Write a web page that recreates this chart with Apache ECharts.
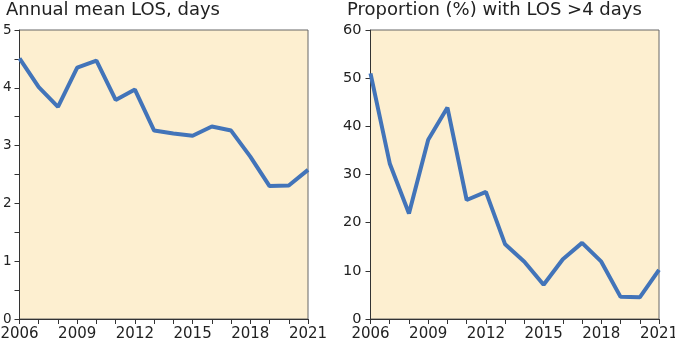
<!DOCTYPE html>
<html lang="en">
<head>
    <meta charset="UTF-8">
    <title>LOS trends</title>
    <script src="https://cdn.jsdelivr.net/npm/echarts@6/dist/echarts.min.js"></script>
    <style>
        body { margin: 0; background: #fff; }
    </style>
</head>
<body>
    <div id="main" style="width: 675px;height:342px;"></div>
    <script type="text/javascript">
        // years on the x axis
        const years = ['2006', '2007', '2008', '2009', '2010', '2011', '2012', '2013',
            '2014', '2015', '2016', '2017', '2018', '2019', '2020', '2021'];
        // annual mean length of stay, days
        const meanLos = [4.51, 4.01, 3.67, 4.35, 4.47, 3.79, 3.97, 3.26,
            3.21, 3.17, 3.33, 3.26, 2.81, 2.30, 2.31, 2.58];
        // proportion with LOS > 4 days, %
        const propOver4 = [51.0, 32.3, 21.9, 37.2, 43.9, 24.7, 26.4, 15.5,
            11.9, 7.1, 12.4, 15.8, 11.9, 4.6, 4.5, 10.2];

        const font = 'DejaVu Sans, Liberation Sans, sans-serif';
        const lineBlue = '#4274b9';
        const axisGrey = '#333';

        function xAxisFor(gridIndex) {
            return {
                type: 'category',
                gridIndex: gridIndex,
                data: years,
                boundaryGap: false,
                axisLine: { lineStyle: { color: axisGrey, width: 1 } },
                axisTick: { show: true, interval: 0, length: 5, lineStyle: { color: axisGrey } },
                axisLabel: { interval: 2, color: '#222', fontSize: 15, fontFamily: font, margin: 8 },
                splitLine: { show: false }
            };
        }

        let myChart = echarts.init(document.getElementById('main'));
        let options = {
            animation: false,
            title: [
                { text: 'Annual mean LOS, days', left: 1, top: -4,
                  textStyle: { fontSize: 18, fontWeight: 'normal', color: '#222', fontFamily: font } },
                { text: 'Proportion (%) with LOS >4 days', left: 342, top: -4,
                  textStyle: { fontSize: 18, fontWeight: 'normal', color: '#222', fontFamily: font } }
            ],
            // outerBoundsMode none: keep the plot boxes where they are even if end labels touch the edge
            grid: [
                { left: 19.5, top: 30, width: 288.5, height: 289, show: true, outerBoundsMode: 'none',
                  backgroundColor: '#fdefd0', borderColor: '#666', borderWidth: 1 },
                { left: 370.5, top: 30, width: 288.5, height: 289, show: true, outerBoundsMode: 'none',
                  backgroundColor: '#fdefd0', borderColor: '#666', borderWidth: 1 }
            ],
            xAxis: [xAxisFor(0), xAxisFor(1)],
            yAxis: [
                {
                    type: 'value', gridIndex: 0, min: 0, max: 5, interval: 1,
                    axisLine: { show: true, lineStyle: { color: axisGrey } },
                    axisTick: { show: true, length: 5, lineStyle: { color: axisGrey } },
                    minorTick: { show: true, splitNumber: 2, length: 5, lineStyle: { color: axisGrey } },
                    axisLabel: { color: '#222', fontSize: 13.5, fontFamily: font, margin: 8 },
                    splitLine: { show: false }
                },
                {
                    type: 'value', gridIndex: 1, min: 0, max: 60, interval: 10,
                    axisLine: { show: true, lineStyle: { color: axisGrey } },
                    axisTick: { show: true, length: 5, lineStyle: { color: axisGrey } },
                    axisLabel: { color: '#222', fontSize: 14.5, fontFamily: font, margin: 9 },
                    splitLine: { show: false }
                }
            ],
            series: [
                { type: 'line', xAxisIndex: 0, yAxisIndex: 0, data: meanLos,
                  showSymbol: false, lineStyle: { color: lineBlue, width: 4 } },
                { type: 'line', xAxisIndex: 1, yAxisIndex: 1, data: propOver4,
                  showSymbol: false, lineStyle: { color: lineBlue, width: 4 } }
            ]
        };
        myChart.setOption(options);
    </script>
</body>
</html>
